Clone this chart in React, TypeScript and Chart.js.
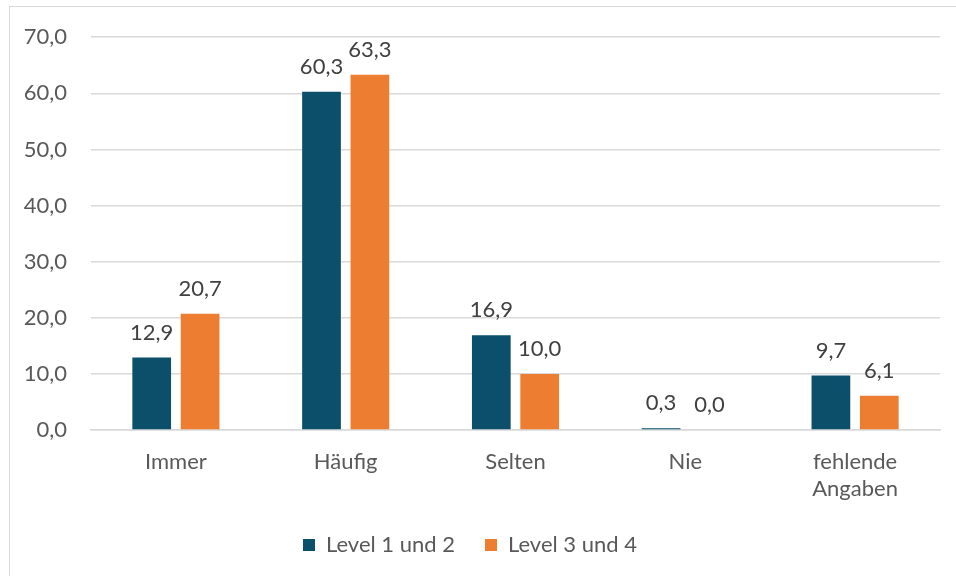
import React, { useEffect, useRef } from "react";
import { Chart, registerables } from "chart.js";

Chart.register(...registerables);

const categories: (string | string[])[] = ["Immer", "Häufig", "Selten", "Nie", ["fehlende", "Angaben"]];
const seriesNames = ["Level 1 und 2", "Level 3 und 4"];
const level12 = [12.9, 60.3, 16.9, 0.3, 9.7];
const level34 = [20.7, 63.3, 10.0, 0.0, 6.1];
const yTicks = [0, 10, 20, 30, 40, 50, 60, 70];

const FONT = "Lato";
const FS = 22;
const fmt = (v: number) => v.toFixed(1).replace(".", ",");

const valueLabels = {
  id: "valueLabels",
  afterDatasetsDraw(chart: any) {
    const ctx = chart.ctx;
    ctx.save();
    ctx.font = `${FS}px ${FONT}`;
    ctx.fillStyle = "#404040";
    ctx.textAlign = "center";
    ctx.textBaseline = "alphabetic";
    chart.data.datasets.forEach((ds: any, di: number) => {
      const meta = chart.getDatasetMeta(di);
      meta.data.forEach((el: any, i: number) => {
        ctx.fillText(fmt(ds.data[i]), el.x, el.y - 18);
      });
    });
    ctx.restore();
  },
};

export default function App() {
  const ref = useRef<HTMLCanvasElement>(null);
  useEffect(() => {
    if (!ref.current) return;
    const chart = new Chart(ref.current, {
      type: "bar",
      data: {
        labels: categories,
        datasets: [
          {
            label: seriesNames[0],
            data: level12,
            backgroundColor: "#0B4F6B",
            borderWidth: 0,
            categoryPercentage: 0.57,
            barPercentage: 0.8,
          },
          {
            label: seriesNames[1],
            data: level34,
            backgroundColor: "#ED7D31",
            borderWidth: 0,
            categoryPercentage: 0.57,
            barPercentage: 0.8,
          },
        ],
      },
      options: {
        animation: false,
        responsive: false,
        maintainAspectRatio: false,
        layout: { padding: { top: 36, right: 16, left: 0, bottom: 10 } },
        plugins: {
          tooltip: { enabled: false },
          legend: {
            position: "bottom",
            labels: {
              boxWidth: 12,
              boxHeight: 12,
              padding: 30,
              color: "#595959",
              font: { family: FONT, size: FS },
            },
          },
        },
        scales: {
          x: {
            grid: { display: false, drawTicks: false },
            border: { display: true, color: "#d9d9d9", width: 1.5 },
            ticks: {
              color: "#595959",
              font: { family: FONT, size: FS },
              padding: 19,
              maxRotation: 0,
            },
            afterFit: (s: any) => {
              s.height = 74;
            },
          },
          y: {
            min: 0,
            max: 70,
            afterBuildTicks: (s: any) => {
              s.ticks = yTicks.map((v) => ({ value: v }));
            },
            grid: { color: "#d9d9d9", lineWidth: 1.5, drawTicks: false },
            border: { display: false },
            ticks: {
              color: "#595959",
              font: { family: FONT, size: FS },
              padding: 24,
              callback: (v: any) => fmt(Number(v)),
            },
            afterFit: (s: any) => {
              s.width = 91;
            },
          },
        },
      },
      plugins: [valueLabels],
    });
    return () => chart.destroy();
  }, []);
  return (
    <div style={{ position: "fixed", left: 0, top: 0, width: 956, height: 576, overflow: "hidden", background: "#fff" }}>
      <div
        style={{
          position: "absolute",
          left: 9,
          top: 6,
          width: 1000,
          height: 1000,
          border: "1px solid #d9d9d9",
          boxSizing: "border-box",
        }}
      />
      <canvas ref={ref} width={956} height={576} style={{ position: "absolute", left: 0, top: 0, width: 956, height: 576 }} />
    </div>
  );
}
